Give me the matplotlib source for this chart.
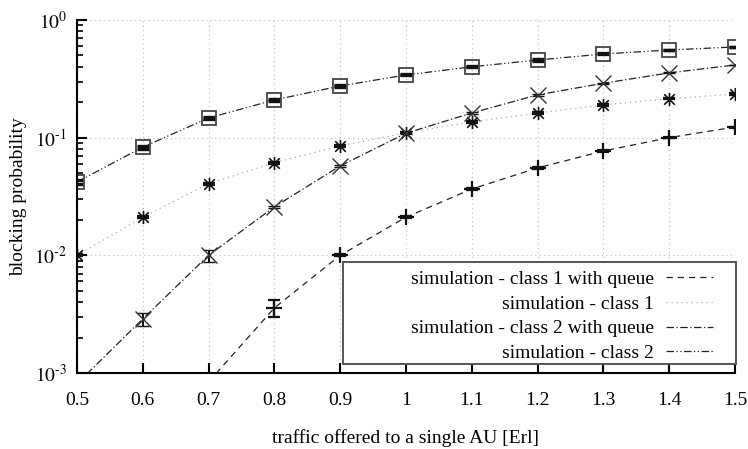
import numpy as np
import matplotlib
matplotlib.use("Agg")
import matplotlib.pyplot as plt
from matplotlib.path import Path
from matplotlib.patches import Rectangle
from matplotlib.legend_handler import HandlerLine2D

plt.rcParams['font.family'] = ['Liberation Serif', 'DejaVu Serif']
plt.rcParams['mathtext.fontset'] = 'stix'

x = [0.5, 0.6, 0.7, 0.8, 0.9, 1.0, 1.1, 1.2, 1.3, 1.4, 1.5]
xticklabels = ['0.5', '0.6', '0.7', '0.8', '0.9', '1', '1.1', '1.2', '1.3', '1.4', '1.5']
yticks = [1e-3, 1e-2, 1e-1, 1]
yticklabels = [r'$10^{\text{-}3}$', r'$10^{\text{-}2}$', r'$10^{\text{-}1}$', r'$10^{0}$']

# class 1 with queue starts at 0.7 (first value is below the axis range)
x_c1q = [0.7, 0.8, 0.9, 1.0, 1.1, 1.2, 1.3, 1.4, 1.5]
class1_queue = [8.4e-4, 3.57e-3, 0.0100, 0.0211, 0.0366, 0.0553, 0.077, 0.100, 0.123]
class1_queue_err = [0.0, 6.0e-4, 2.0e-4, 4.0e-4, 6.0e-4, 1.0e-3, 1.2e-3, 1.2e-3, 1.2e-3]
class1 = [0.0100, 0.0211, 0.0406, 0.0612, 0.085, 0.110, 0.136, 0.162, 0.190, 0.214, 0.235]
class1_err = [2.0e-4, 4.0e-4, 8.0e-4, 1.0e-3, 1.5e-3, 1.5e-3, 2.0e-3, 2.0e-3, 2.5e-3, 2.5e-3, 2.5e-3]
class2_queue = [8.1e-4, 2.88e-3, 0.0100, 0.0258, 0.0575, 0.109, 0.162, 0.231, 0.290, 0.355, 0.415]
class2_queue_err = [5.0e-5, 3.7e-4, 1.2e-3, 6.0e-4, 1.0e-3, 2.0e-3, 3.0e-3, 4.0e-3, 3.0e-3, 3.0e-3, 3.0e-3]
class2 = [0.042, 0.083, 0.147, 0.209, 0.275, 0.341, 0.400, 0.457, 0.514, 0.556, 0.590]
class2_err = [1.5e-3, 2.5e-3, 3.0e-3, 3.0e-3, 3.5e-3, 3.5e-3, 4.0e-3, 4.5e-3, 5.0e-3, 5.0e-3, 5.0e-3]

labels = ['simulation - class 1 with queue', 'simulation - class 1',
          'simulation - class 2 with queue', 'simulation - class 2']

FS = 14

fig = plt.figure(figsize=(7.48, 4.49), dpi=100)
ax = fig.add_axes([0.1029, 0.1693, 0.8797, 0.7862])

# asterisk marker: vertical bar plus an X
ast = Path([(0, -1), (0, 1), (-0.8, -0.8), (0.8, 0.8), (-0.8, 0.8), (0.8, -0.8)],
           [Path.MOVETO, Path.LINETO, Path.MOVETO, Path.LINETO, Path.MOVETO, Path.LINETO])

lw = 0.9
# class 1 with queue: dashed, plus markers
h1, = ax.plot(x_c1q, class1_queue, linestyle=(0, (5, 4)), color='#222222', lw=lw)
ax.errorbar(x_c1q[1:], class1_queue[1:], yerr=class1_queue_err[1:], fmt='+', color='#111111',
            ms=11, mew=1.6, capsize=4, elinewidth=1.6, capthick=1.6)
# class 1: dotted light grey, asterisk markers
h2, = ax.plot(x, class1, linestyle=(0, (1, 3)), color='#aaaaaa', lw=lw)
ax.errorbar(x, class1, yerr=class1_err, fmt='none', ecolor='#111111', capsize=4,
            elinewidth=1.6, capthick=1.6)
ax.plot(x, class1, linestyle='none', marker=ast, ms=9.5, mew=1.2, color='#111111')
# class 2 with queue: dash-dot, x markers
h3, = ax.plot(x, class2_queue, linestyle=(0, (6, 2, 1, 2)), color='#222222', lw=lw)
ax.errorbar(x, class2_queue, yerr=class2_queue_err, fmt='x', color='#333333', ms=11.5,
            mew=1.0, ecolor='#111111', capsize=4, elinewidth=1.4, capthick=1.6)
# class 2: dash-dot-dot, square markers
h4, = ax.plot(x, class2, linestyle=(0, (6, 2, 1, 2, 1, 2)), color='#222222', lw=lw)
ax.errorbar(x, class2, yerr=class2_err, fmt='none', ecolor='#111111', capsize=4.3,
            elinewidth=1.6, capthick=2.4)
ax.plot(x, class2, linestyle='none', marker='s', ms=9.6, mfc='none', mec='#444444', mew=1.3)

ax.set_yscale('log')
ax.set_ylim(1e-3, 1)
ax.set_xlim(0.5, 1.5)
ax.set_xticks(x)
ax.set_xticklabels(xticklabels)
ax.set_yticks(yticks)
ax.set_yticklabels(yticklabels)

for s in ['top', 'right']:
    ax.spines[s].set_visible(False)
for s in ['left', 'bottom']:
    ax.spines[s].set_linewidth(1.5)

ax.tick_params(axis='both', which='major', direction='in', length=7, width=1.5,
               labelsize=FS)
ax.tick_params(axis='x', which='major', pad=14)
ax.tick_params(axis='y', which='major', pad=7)
ax.tick_params(axis='y', which='minor', direction='in', length=4, width=1.2)
ax.tick_params(axis='x', which='minor', bottom=False)
ax.grid(True, which='major', linestyle=(0, (1, 3)), color='#bbbbbb', lw=0.8)
ax.set_axisbelow(True)

ax.set_xlabel('traffic offered to a single AU [Erl]', fontsize=FS, labelpad=14)
ax.set_ylabel('blocking probability', fontsize=FS, labelpad=5)


class ShortLine(HandlerLine2D):
    def create_artists(self, legend, orig_handle, xdescent, ydescent, width, height,
                       fontsize, trans):
        return super().create_artists(legend, orig_handle, xdescent, ydescent,
                                      width * 0.74, height, fontsize, trans)


# legend frame (wider than its content, as in the original)
frame = Rectangle((0.4043, 0.0255), 0.5972, 0.2889, transform=ax.transAxes,
                  facecolor='white', edgecolor='#555555', lw=1.4, zorder=4,
                  clip_on=False)
ax.add_patch(frame)

leg = ax.legend([h1, h2, h3, h4], labels, loc='lower right', bbox_to_anchor=(1.0, 0.0165),
                markerfirst=False, fontsize=FS, handlelength=3.3, handletextpad=0.6,
                labelspacing=0.37, borderpad=0.25, borderaxespad=0, frameon=False,
                handler_map={h: ShortLine() for h in [h1, h2, h3, h4]})
leg.set_zorder(5)

fig.savefig('out.png', dpi=100)
